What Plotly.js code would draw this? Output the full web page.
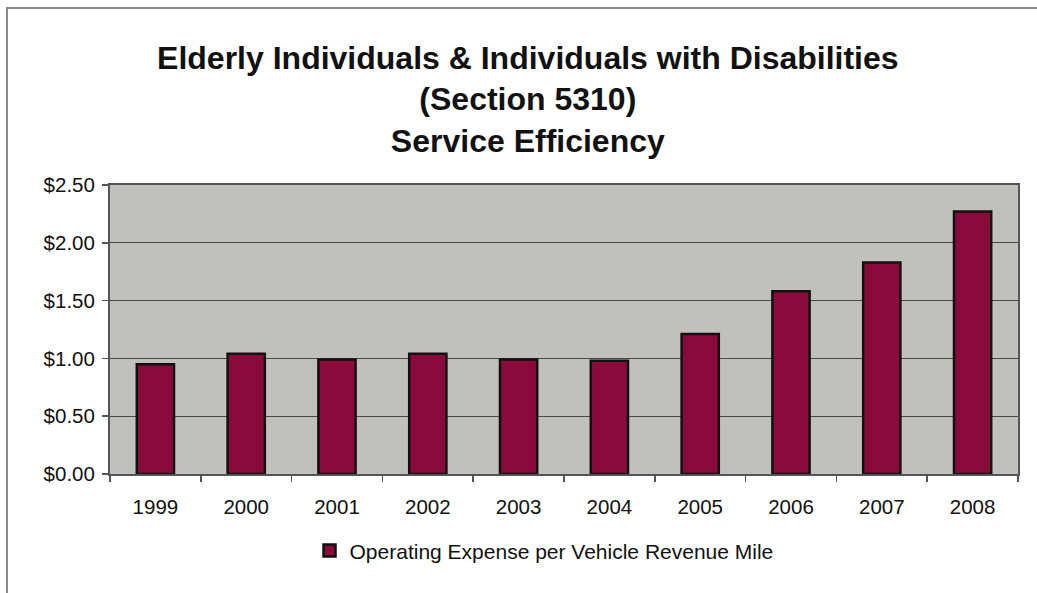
<!DOCTYPE html>
<html>
<head>
<meta charset="utf-8">
<script src="https://cdn.plot.ly/plotly-3.0.1.min.js"></script>
<style>
  html, body { margin: 0; padding: 0; background: #ffffff; }
  #chart { width: 1037px; height: 593px; position: relative; }
  #frameL { position: absolute; left: 6px; top: 7px; width: 2px; height: 586px; background: #8a8a8a; }
  #frameT { position: absolute; left: 6px; top: 7px; width: 1031px; height: 2px; background: #8a8a8a; }
</style>
</head>
<body>
<div id="chart"></div>
<div id="frameL"></div>
<div id="frameT"></div>
<script>
const years = ['1999', '2000', '2001', '2002', '2003', '2004', '2005', '2006', '2007', '2008'];
const costPerMile = [0.95, 1.04, 0.99, 1.04, 0.99, 0.98, 1.21, 1.58, 1.83, 2.27];
const seriesName = 'Operating Expense per Vehicle Revenue Mile';
const yTickVals = [0, 0.5, 1.0, 1.5, 2.0, 2.5];
const yTickText = ['$0.00', '$0.50', '$1.00', '$1.50', '$2.00', '$2.50'];

const trace = {
  type: 'bar',
  x: years,
  y: costPerMile,
  name: seriesName,
  showlegend: true,
  marker: { color: '#8b0a3c', line: { color: '#111111', width: 2.5 } },
  hoverinfo: 'x+y'
};

const layout = {
  width: 1037,
  height: 593,
  paper_bgcolor: 'rgba(0,0,0,0)',
  plot_bgcolor: '#c0c0bc',
  margin: { l: 110, r: 19, t: 185, b: 119 },
  bargap: 0.59,
  font: { family: 'Liberation Sans, Arial, sans-serif', color: '#111111' },
  title: {
    text: '<b>Elderly Individuals & Individuals with Disabilities<br>(Section 5310)<br>Service Efficiency</b>',
    font: { family: 'Liberation Sans, Arial, sans-serif', size: 32, color: '#111111' },
    x: 0.509, xref: 'container', xanchor: 'center',
    y: 0.884, yref: 'container', yanchor: 'top'
  },
  xaxis: {
    type: 'category',
    tickfont: { size: 20.5, color: '#111111' },
    showline: true, linecolor: '#555555', linewidth: 2, mirror: true,
    ticks: 'outside', ticklen: 6, tickcolor: '#555555', tickwidth: 1.5,
    tickson: 'boundaries',
    ticklabelstandoff: 13,
    showgrid: false,
    zeroline: false
  },
  yaxis: {
    range: [0, 2.5],
    tickvals: yTickVals,
    ticktext: yTickText,
    tickfont: { size: 20.5, color: '#111111' },
    showline: true, linecolor: '#555555', linewidth: 2, mirror: true,
    ticks: 'outside', ticklen: 6, tickcolor: '#555555', tickwidth: 1.5,
    ticklabelstandoff: 3,
    showgrid: true, gridcolor: '#4a4a4a', gridwidth: 1,
    zeroline: false
  },
  legend: {
    orientation: 'h',
    x: 0.478, xanchor: 'center',
    y: -0.195, yanchor: 'top',
    font: { size: 21, color: '#111111' },
    itemwidth: 30,
    bgcolor: 'rgba(0,0,0,0)'
  }
};

Plotly.newPlot('chart', [trace], layout, { displayModeBar: false, staticPlot: true });
</script>
</body>
</html>
